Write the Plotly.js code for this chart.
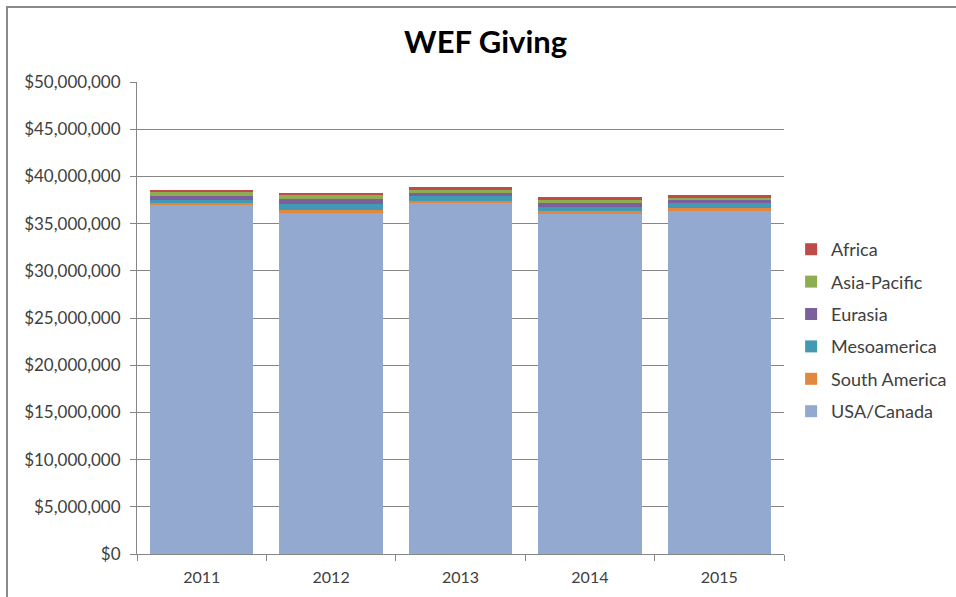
<!DOCTYPE html>
<html>
<head>
<meta charset="utf-8">
<script src="https://cdn.plot.ly/plotly-3.0.1.min.js"></script>
<style>
html,body{margin:0;padding:0;background:#fff;}
#wrap{position:relative;width:956px;height:597px;overflow:hidden;}
#chart{position:absolute;left:0;top:0;width:956px;height:597px;}
.ln{position:absolute;background:#8a8a8a;}
</style>
</head>
<body>
<div id="wrap">
<div id="chart"></div>
<div class="ln" style="left:6px;top:6px;width:950px;height:2px;"></div>
<div class="ln" style="left:6px;top:6px;width:2px;height:591px;"></div>
</div>
<script>
const years = ["2011", "2012", "2013", "2014", "2015"];
const usaCanada    = [36970000, 36160000, 37180000, 36050000, 36370000];
const southAmerica = [210000, 280000, 250000, 280000, 280000];
const mesoamerica  = [320000, 670000, 490000, 460000, 530000];
const eurasia      = [450000, 490000, 350000, 390000, 280000];
const asiaPacific  = [420000, 390000, 280000, 350000, 350000];
const africa       = [180000, 280000, 280000, 280000, 210000];

const seriesNames = ["USA/Canada", "South America", "Mesoamerica", "Eurasia", "Asia-Pacific", "Africa"];
const seriesValues = [usaCanada, southAmerica, mesoamerica, eurasia, asiaPacific, africa];
const seriesColors = ["#94a9d0", "#e2873e", "#4299b4", "#7b5f9e", "#8ead51", "#be4b48"];

const font = "Lato, 'Open Sans', sans-serif";
const traces = seriesNames.map((n, i) => ({
  type: "bar",
  name: n,
  x: years,
  y: seriesValues[i],
  legendgroup: "g" + i,
  legendrank: seriesNames.length - i,
  marker: {color: seriesColors[i], line: {width: 0}},
  hoverinfo: "x+y+name"
}));

const layout = {
  width: 956, height: 597,
  margin: {l: 137, r: 172, t: 82, b: 43, autoexpand: false},
  paper_bgcolor: "rgba(0,0,0,0)",
  plot_bgcolor: "rgba(0,0,0,0)",
  barmode: "stack",
  bargap: 0.2,
  font: {family: font, size: 16, color: "#404040"},
  title: {
    text: "<b>WEF Giving</b>",
    font: {family: font, size: 31, color: "#000000"},
    x: 0.508, xanchor: "center", xref: "container",
    y: 1 - 42/597, yanchor: "middle", yref: "container"
  },
  xaxis: {
    type: "category",
    tickson: "boundaries",
    ticks: "outside", ticklen: 6, tickcolor: "#868686",
    showline: true, linecolor: "#868686", linewidth: 1,
    showgrid: false, zeroline: false,
    ticklabelstandoff: 9,
    tickfont: {family: font, size: 16, color: "#404040"}
  },
  yaxis: {
    range: [0, 50000000],
    dtick: 5000000,
    tickprefix: "$",
    tickformat: ",d",
    ticks: "outside", ticklen: 6, tickcolor: "#868686",
    showline: true, linecolor: "#868686", linewidth: 1,
    showgrid: true, gridcolor: "#868686", gridwidth: 1,
    zeroline: false,
    ticklabelstandoff: 6,
    tickfont: {family: font, size: 17, color: "#404040"}
  },
  legend: {
    traceorder: "grouped",
    tracegroupgap: 6,
    x: 1.011, xanchor: "left",
    y: 0.4735, yanchor: "middle",
    font: {family: font, size: 18, color: "#404040"},
    bgcolor: "rgba(0,0,0,0)"
  },
  showlegend: true
};

Plotly.newPlot("chart", traces, layout, {displayModeBar: false});
</script>
</body>
</html>
